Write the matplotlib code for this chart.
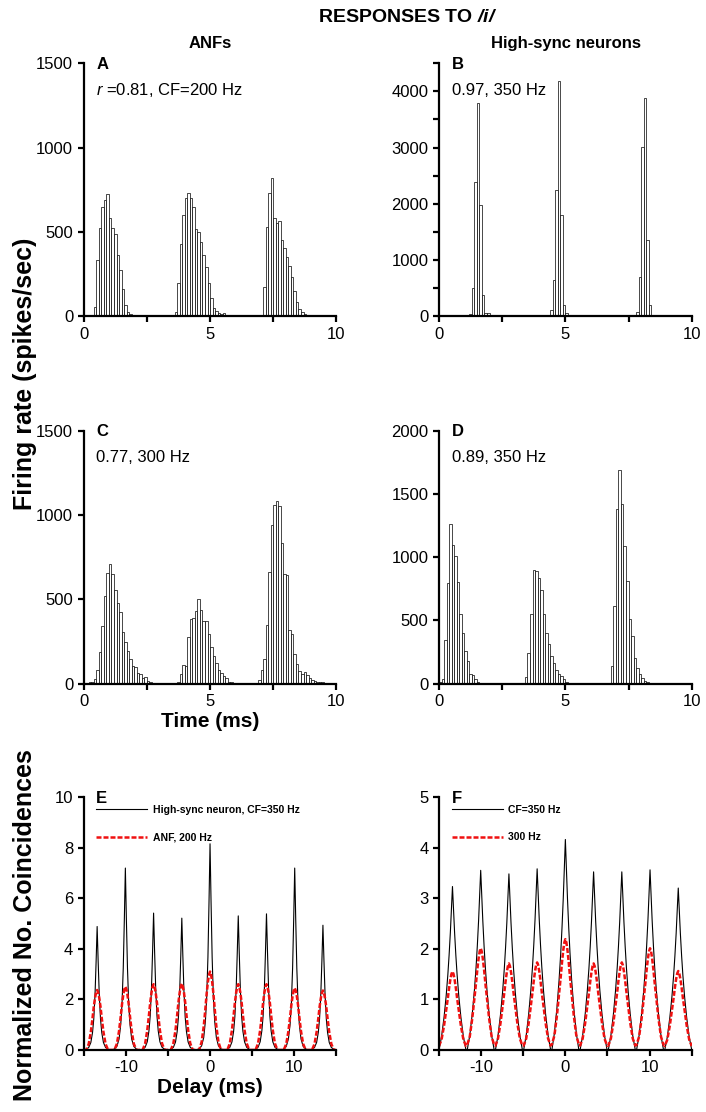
from __future__ import annotations

import matplotlib

matplotlib.use("Agg")
import matplotlib.pyplot as plt
import numpy as np
from matplotlib.ticker import MultipleLocator, NullLocator

plt.rcParams["font.family"] = ["Liberation Sans", "DejaVu Sans"]
plt.rcParams["axes.unicode_minus"] = False
plt.rcParams["mathtext.fontset"] = "custom"
plt.rcParams["mathtext.rm"] = "Liberation Sans"
plt.rcParams["mathtext.it"] = "Liberation Sans:italic"
plt.rcParams["mathtext.bf"] = "Liberation Sans:bold:italic"

OUTPUT_PATH = "out.png"
BIN_WIDTH = 0.1  # ms per histogram bin
AXIS_LW = 1.6
TICK_SIZE = 12

# Period histograms (spikes/sec), one value per 0.1 ms bin from 0 to 10 ms
rate_anf_200 = [
    2, 2, 3, 4, 57, 334, 522, 650, 690, 725,
    581, 522, 486, 363, 275, 164, 67, 27, 14, 5,
    3, 2, 1, 0, 0, 0, 0, 0, 0, 0,
    0, 0, 0, 0, 0, 3, 25, 200, 430, 600,
    700, 733, 700, 646, 516, 500, 440, 363, 290, 200,
    110, 50, 30, 20, 15, 22, 8, 3, 2, 1,
    0, 0, 0, 0, 0, 0, 0, 0, 0, 0,
    4, 176, 531, 729, 818, 581, 551, 566, 452, 403,
    353, 300, 235, 150, 83, 45, 25, 15, 10, 8,
    6, 5, 6, 4, 3, 2, 0, 0, 0, 0,
]
rate_sync_350_b = [
    0, 0, 0, 0, 0, 0, 0, 0, 0, 0,
    0, 5, 48, 511, 2394, 3791, 1978, 385, 50, 50,
    15, 0, 0, 0, 0, 0, 0, 0, 0, 0,
    0, 0, 0, 0, 0, 0, 0, 0, 0, 0,
    0, 0, 0, 15, 119, 652, 2252, 4178, 1796, 208,
    65, 20, 0, 0, 0, 0, 0, 0, 0, 0,
    0, 0, 0, 0, 0, 0, 0, 0, 0, 0,
    0, 0, 0, 0, 0, 0, 0, 0, 77, 699,
    3010, 3881, 1363, 196, 30, 0, 0, 0, 0, 0,
    0, 0, 0, 0, 0, 0, 0, 0, 0, 0,
]
rate_anf_300 = [
    3, 5, 8, 12, 25, 80, 185, 340, 518, 656,
    707, 648, 558, 478, 425, 307, 247, 194, 149, 104,
    96, 64, 56, 31, 40, 15, 10, 6, 4, 3,
    2, 2, 1, 0, 0, 0, 2, 8, 60, 110,
    104, 277, 386, 392, 431, 504, 439, 372, 372, 297,
    218, 163, 123, 80, 64, 44, 34, 10, 8, 5,
    3, 2, 1, 0, 0, 0, 0, 2, 5, 20,
    80, 149, 346, 662, 938, 1057, 1086, 1051, 834, 648,
    642, 317, 293, 175, 115, 76, 60, 70, 50, 31,
    20, 15, 10, 10, 8, 5, 3, 2, 0, 0,
]
rate_sync_350_d = [
    10, 40, 342, 798, 1264, 1098, 1008, 803, 548, 400,
    258, 176, 79, 66, 40, 10, 5, 3, 2, 0,
    0, 0, 0, 0, 0, 0, 0, 0, 0, 0,
    0, 0, 0, 5, 52, 242, 553, 895, 887, 837,
    743, 553, 403, 310, 216, 163, 111, 73, 58, 40,
    10, 5, 3, 0, 0, 0, 0, 0, 0, 0,
    0, 0, 0, 0, 0, 0, 0, 5, 137, 611,
    1383, 1691, 1422, 1087, 811, 514, 374, 205, 126, 73,
    44, 20, 10, 5, 3, 0, 0, 0, 0, 0,
    0, 0, 0, 0, 0, 0, 0, 0, 0, 0,
]

# Coincidence counts: peak delays (ms), peak heights, and the peak profile
# at fixed offsets around each peak
peak_delays = [-13.4, -10.05, -6.7, -3.35, 0.0, 3.35, 6.7, 10.05, 13.4]
profile_offsets = [-1.6, -1.3, -1.0, -0.75, -0.55, -0.4, -0.25, -0.12, 0.0,
                   0.12, 0.25, 0.4, 0.55, 0.75, 1.0, 1.3, 1.6]

heights_e_sync = [4.88, 7.19, 5.41, 5.21, 8.15, 5.30, 5.38, 7.19, 4.93]
heights_e_anf = [2.37, 2.50, 2.60, 2.62, 3.10, 2.60, 2.60, 2.45, 2.35]
heights_f_sync = [3.23, 3.55, 3.48, 3.58, 4.16, 3.52, 3.52, 3.56, 3.20]
heights_f_anf = [1.55, 2.01, 1.71, 1.73, 2.19, 1.71, 1.73, 2.01, 1.56]

shape_e_sync = [0.0, 0.005, 0.02, 0.06, 0.14, 0.25, 0.45, 0.72, 1.0,
                0.72, 0.45, 0.25, 0.14, 0.06, 0.02, 0.005, 0.0]
shape_e_anf = [0.0, 0.0, 0.1, 0.3, 0.53, 0.72, 0.87, 0.96, 1.0,
               0.96, 0.87, 0.72, 0.53, 0.3, 0.1, 0.0, 0.0]
shape_f_sync = [0.0, 0.08, 0.2, 0.33, 0.46, 0.58, 0.72, 0.86, 1.0,
                0.86, 0.72, 0.58, 0.46, 0.33, 0.2, 0.08, 0.0]
shape_f_anf = [0.05, 0.13, 0.31, 0.5, 0.66, 0.79, 0.9, 0.97, 1.0,
               0.97, 0.9, 0.79, 0.66, 0.5, 0.31, 0.13, 0.05]

# axes rectangles in figure fractions: left, bottom, width, height
LEFT_COL, RIGHT_COL = 0.1185, 0.6218
ROW_BOTTOMS = (0.7156, 0.3852, 0.0558)
AX_W, AX_H = 0.358, 0.2275


def correlogram(heights: list[float], shape: list[float]) -> tuple[np.ndarray, np.ndarray]:
    delays, values = [], []
    for centre, height in zip(peak_delays, heights):
        delays.extend(centre + off for off in profile_offsets)
        values.extend(height * s for s in shape)
    return np.array(delays), np.array(values)


def style_axes(ax, xmajor, xminor, ymajor, yminor=None) -> None:
    for side in ("top", "right"):
        ax.spines[side].set_visible(False)
    for side in ("left", "bottom"):
        ax.spines[side].set_linewidth(AXIS_LW)
    ax.xaxis.set_major_locator(MultipleLocator(xmajor))
    ax.xaxis.set_minor_locator(MultipleLocator(xminor))
    ax.yaxis.set_major_locator(MultipleLocator(ymajor))
    ax.yaxis.set_minor_locator(MultipleLocator(yminor) if yminor else NullLocator())
    ax.tick_params(which="both", direction="out", length=4.5, width=AXIS_LW,
                   labelsize=TICK_SIZE, pad=3)


def label_panel(ax, letter: str, note: str | None = None) -> None:
    ax.text(0.05, 0.995, letter, transform=ax.transAxes, fontsize=12,
            fontweight="bold", ha="left", va="center")
    if note:
        ax.text(0.05, 0.893, note, transform=ax.transAxes, fontsize=12,
                ha="left", va="center")


def draw_histogram(ax, rates, ymax, ymajor, yminor=None) -> None:
    starts = np.arange(len(rates)) * BIN_WIDTH
    ax.bar(starts, rates, width=BIN_WIDTH, align="edge", facecolor="white",
           edgecolor="black", linewidth=0.5)
    ax.set_xlim(0, 10)
    ax.set_ylim(0, ymax)
    style_axes(ax, 5, 2.5, ymajor, yminor)


def draw_correlogram(ax, sync_heights, sync_shape, anf_heights, anf_shape,
                     sync_label, anf_label, ymax, ymajor) -> None:
    x_sync, y_sync = correlogram(sync_heights, sync_shape)
    x_anf, y_anf = correlogram(anf_heights, anf_shape)
    ax.plot(x_sync, y_sync, color="black", linewidth=0.8, label=sync_label)
    ax.plot(x_anf, y_anf, color="#f01010", linewidth=1.8, dashes=(2.0, 0.8),
            label=anf_label)
    ax.set_xlim(-15, 15)
    ax.set_ylim(0, ymax)
    style_axes(ax, 10, 5, ymajor)
    ax.legend(loc="upper left", bbox_to_anchor=(0.05, 0.968), frameon=False,
              borderpad=0, borderaxespad=0, handlelength=4.9,
              handletextpad=0.5, labelspacing=1.65,
              prop={"weight": "bold", "size": 7.5})


def main() -> None:
    fig = plt.figure(figsize=(7.06, 11.12), dpi=100)
    fig.patch.set_facecolor("white")

    ax_a = fig.add_axes([LEFT_COL, ROW_BOTTOMS[0], AX_W, AX_H])
    ax_b = fig.add_axes([RIGHT_COL, ROW_BOTTOMS[0], AX_W, AX_H])
    ax_c = fig.add_axes([LEFT_COL, ROW_BOTTOMS[1], AX_W, AX_H])
    ax_d = fig.add_axes([RIGHT_COL, ROW_BOTTOMS[1], AX_W, AX_H])
    ax_e = fig.add_axes([LEFT_COL, ROW_BOTTOMS[2], AX_W, AX_H])
    ax_f = fig.add_axes([RIGHT_COL, ROW_BOTTOMS[2], AX_W, AX_H])

    draw_histogram(ax_a, rate_anf_200, 1500, 500)
    label_panel(ax_a, "A", r"$r$ =0.81, CF=200 Hz")
    draw_histogram(ax_b, rate_sync_350_b, 4500, 1000, 500)
    label_panel(ax_b, "B", "0.97, 350 Hz")
    draw_histogram(ax_c, rate_anf_300, 1500, 500)
    label_panel(ax_c, "C", "0.77, 300 Hz")
    draw_histogram(ax_d, rate_sync_350_d, 2000, 500)
    label_panel(ax_d, "D", "0.89, 350 Hz")

    draw_correlogram(ax_e, heights_e_sync, shape_e_sync, heights_e_anf, shape_e_anf,
                     "High-sync neuron, CF=350 Hz", "ANF, 200 Hz", 10, 2)
    label_panel(ax_e, "E")
    draw_correlogram(ax_f, heights_f_sync, shape_f_sync, heights_f_anf, shape_f_anf,
                     "CF=350 Hz", "300 Hz", 5, 1)
    label_panel(ax_f, "F")

    ax_c.set_xlabel("Time (ms)", fontsize=15, fontweight="bold", labelpad=2)
    ax_e.set_xlabel("Delay (ms)", fontsize=15, fontweight="bold", labelpad=2)

    fig.text(0.036, 0.6635, "Firing rate (spikes/sec)", rotation=90, fontsize=18,
             fontweight="bold", ha="center", va="center")
    fig.text(0.036, 0.168, "Normalized No. Coincidences", rotation=90, fontsize=18,
             fontweight="bold", ha="center", va="center")

    fig.text(0.578, 0.984, r"RESPONSES TO $\mathbf{/i/}$", fontsize=14,
             fontweight="bold", ha="center", va="center")
    fig.text(0.2975, 0.961, "ANFs", fontsize=12, fontweight="bold",
             ha="center", va="center")
    fig.text(0.801, 0.961, "High-sync neurons", fontsize=12, fontweight="bold",
             ha="center", va="center")

    fig.savefig(OUTPUT_PATH, dpi=100, facecolor="white")
    plt.close(fig)


if __name__ == "__main__":
    main()
